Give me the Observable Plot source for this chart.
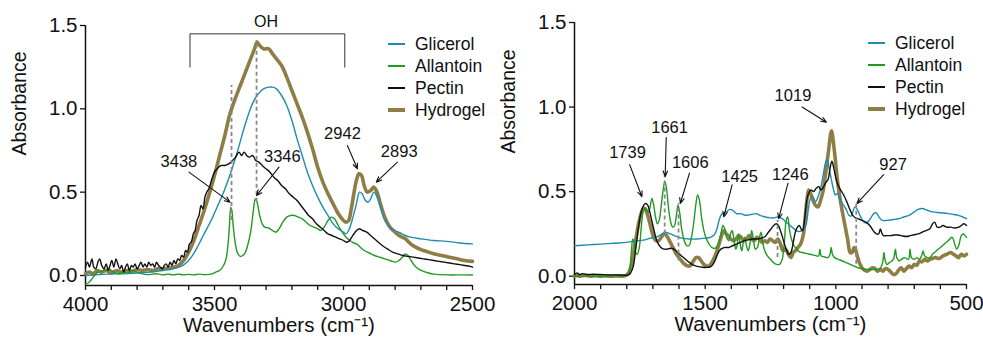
<!DOCTYPE html>
<html>
<head>
<meta charset="utf-8">
<script src="https://cdn.jsdelivr.net/npm/d3@7"></script>
<script src="https://cdn.jsdelivr.net/npm/@observablehq/plot@0.6"></script>
<style>
  body { margin: 0; background: #fff; }
  #wrap { position: relative; width: 983px; height: 343px; font-family: "Liberation Sans", Arial, sans-serif; overflow: hidden; }
  .panel { position: absolute; top: 0; }
  .panel svg { overflow: visible; }
  .legend { position: absolute; font-size: 17.5px; color: #111; line-height: 22px; }
  .legend .row { display: flex; align-items: center; height: 22px; }
  .legend .sw { display: inline-block; width: 17px; margin-right: 10px; }
</style>
</head>
<body>
<div id="wrap"></div>
<script>
// ---------- series meta ----------
const seriesNames = ["Glicerol", "Allantoin", "Pectin", "Hydrogel"];
const seriesColors = ["#1d8cb0", "#1f9a22", "#111111", "#8e7d44"];
const seriesWidths = [1.4, 1.4, 1.4, 3.6];

// ---------- left panel (4000–2500 cm-1) ----------
const glicerolL = [[4000,0.0],[3950,0.005],[3900,0.01],[3850,0.01],[3800,0.015],[3750,0.02],[3700,0.03],[3660,0.04],[3630,0.055],[3610,0.075],[3590,0.11],[3570,0.16],[3550,0.22],[3530,0.28],[3510,0.34],[3490,0.41],[3470,0.48],[3450,0.56],[3430,0.65],[3410,0.75],[3390,0.86],[3370,0.96],[3350,1.04],[3330,1.09],[3310,1.12],[3290,1.13],[3275,1.13],[3260,1.12],[3240,1.08],[3220,1.02],[3200,0.93],[3180,0.82],[3160,0.72],[3140,0.62],[3120,0.54],[3100,0.47],[3080,0.41],[3060,0.36],[3040,0.31],[3020,0.28],[3000,0.26],[2990,0.25],[2980,0.27],[2965,0.34],[2950,0.43],[2938,0.50],[2928,0.49],[2915,0.45],[2905,0.44],[2895,0.46],[2882,0.50],[2870,0.47],[2855,0.40],[2840,0.33],[2820,0.29],[2800,0.27],[2780,0.255],[2760,0.24],[2740,0.23],[2700,0.22],[2650,0.21],[2600,0.205],[2550,0.195],[2500,0.19]];

const allantoinL = [[4000,-0.05],[3990,-0.045],[3980,-0.03],[3970,-0.01],[3960,0.01],[3950,0.02],[3940,0.025],[3930,0.03],[3920,0.035],[3910,0.04],[3900,0.03],[3890,0.02],[3880,0.015],[3870,0.01],[3860,0.015],[3850,0.02],[3840,0.015],[3830,0.02],[3820,0.03],[3810,0.025],[3800,0.02],[3780,0.01],[3760,0.005],[3740,0.008],[3720,0.01],[3700,0.004],[3680,0.008],[3660,0.004],[3640,0.008],[3620,0.004],[3600,0.007],[3580,0.004],[3560,0.008],[3540,0.005],[3520,0.007],[3510,0.01],[3495,0.02],[3480,0.03],[3465,0.06],[3455,0.10],[3448,0.18],[3442,0.30],[3437,0.41],[3432,0.38],[3427,0.29],[3420,0.20],[3412,0.14],[3400,0.115],[3390,0.12],[3380,0.14],[3370,0.19],[3360,0.26],[3350,0.38],[3342,0.46],[3335,0.44],[3325,0.36],[3315,0.31],[3305,0.29],[3290,0.285],[3275,0.27],[3262,0.26],[3250,0.28],[3235,0.32],[3220,0.35],[3205,0.36],[3190,0.36],[3175,0.35],[3160,0.34],[3145,0.32],[3130,0.30],[3115,0.29],[3100,0.28],[3088,0.27],[3075,0.29],[3060,0.33],[3048,0.35],[3035,0.34],[3020,0.30],[3005,0.26],[2990,0.23],[2975,0.21],[2960,0.195],[2950,0.19],[2945,0.185],[2935,0.17],[2920,0.15],[2900,0.135],[2880,0.12],[2860,0.11],[2840,0.10],[2820,0.09],[2800,0.08],[2785,0.09],[2772,0.11],[2760,0.13],[2750,0.12],[2738,0.09],[2725,0.06],[2710,0.04],[2690,0.025],[2670,0.015],[2650,0.008],[2620,0.005],[2580,0.003],[2540,0.004],[2500,0.003]];

const pectinL = [[4000,0.05],[3992,0.08],[3985,0.05],[3975,0.10],[3968,0.05],[3960,0.04],[3952,0.08],[3945,0.10],[3937,0.06],[3928,0.04],[3920,0.07],[3912,0.03],[3905,0.06],[3898,0.09],[3890,0.05],[3882,0.10],[3875,0.07],[3867,0.04],[3860,0.06],[3852,0.02],[3845,0.05],[3838,0.07],[3830,0.03],[3822,0.06],[3815,0.05],[3808,0.07],[3800,0.04],[3792,0.06],[3785,0.08],[3777,0.05],[3770,0.07],[3762,0.05],[3755,0.08],[3747,0.06],[3740,0.07],[3732,0.05],[3725,0.08],[3717,0.06],[3710,0.05],[3702,0.04],[3695,0.06],[3687,0.07],[3680,0.05],[3672,0.08],[3665,0.06],[3657,0.09],[3650,0.07],[3642,0.10],[3635,0.09],[3627,0.12],[3620,0.11],[3612,0.15],[3605,0.14],[3597,0.19],[3590,0.20],[3582,0.25],[3575,0.27],[3568,0.33],[3560,0.36],[3552,0.42],[3545,0.40],[3537,0.47],[3530,0.50],[3522,0.52],[3510,0.58],[3500,0.62],[3490,0.64],[3475,0.66],[3460,0.66],[3445,0.67],[3430,0.69],[3418,0.71],[3405,0.74],[3395,0.72],[3385,0.74],[3375,0.72],[3365,0.71],[3352,0.72],[3340,0.69],[3328,0.68],[3315,0.66],[3300,0.64],[3285,0.62],[3270,0.59],[3255,0.57],[3240,0.54],[3225,0.52],[3210,0.49],[3195,0.47],[3180,0.45],[3165,0.42],[3150,0.39],[3135,0.36],[3120,0.34],[3105,0.31],[3090,0.29],[3075,0.27],[3060,0.25],[3045,0.24],[3030,0.23],[3015,0.22],[3000,0.21],[2990,0.20],[2980,0.205],[2968,0.23],[2955,0.26],[2940,0.28],[2925,0.27],[2910,0.26],[2895,0.24],[2880,0.22],[2865,0.20],[2850,0.18],[2830,0.16],[2810,0.14],[2790,0.13],[2770,0.12],[2750,0.115],[2730,0.11],[2710,0.105],[2690,0.10],[2670,0.095],[2650,0.09],[2630,0.085],[2610,0.08],[2590,0.075],[2570,0.07],[2550,0.065],[2530,0.06],[2510,0.055],[2500,0.05]];

const hydrogelL = [[4000,0.01],[3985,0.02],[3970,0.01],[3955,0.03],[3940,0.02],[3920,0.03],[3900,0.015],[3880,0.03],[3860,0.02],[3840,0.03],[3820,0.025],[3800,0.035],[3780,0.03],[3760,0.035],[3740,0.03],[3720,0.04],[3700,0.04],[3680,0.045],[3660,0.05],[3640,0.06],[3620,0.09],[3600,0.14],[3580,0.21],[3560,0.30],[3540,0.39],[3520,0.49],[3500,0.60],[3480,0.72],[3460,0.84],[3440,0.97],[3420,1.06],[3400,1.14],[3380,1.22],[3360,1.30],[3345,1.36],[3335,1.40],[3325,1.38],[3310,1.36],[3290,1.36],[3275,1.33],[3260,1.30],[3240,1.26],[3220,1.19],[3200,1.11],[3180,1.03],[3160,0.95],[3140,0.86],[3120,0.76],[3100,0.65],[3080,0.56],[3060,0.49],[3040,0.43],[3020,0.37],[3000,0.33],[2990,0.32],[2980,0.33],[2970,0.40],[2960,0.49],[2950,0.57],[2940,0.61],[2930,0.60],[2920,0.54],[2908,0.50],[2895,0.51],[2882,0.53],[2870,0.50],[2855,0.42],[2840,0.35],[2820,0.29],[2800,0.26],[2780,0.235],[2760,0.22],[2740,0.19],[2720,0.17],[2700,0.155],[2680,0.145],[2650,0.13],[2620,0.12],[2590,0.11],[2560,0.10],[2530,0.09],[2500,0.085]];

// ---------- right panel (2000–500 cm-1) ----------
const glicerolR = [[2000,0.18],[1950,0.185],[1900,0.19],[1850,0.195],[1800,0.20],[1760,0.21],[1730,0.215],[1710,0.225],[1690,0.23],[1675,0.24],[1660,0.255],[1650,0.26],[1640,0.255],[1625,0.245],[1610,0.235],[1590,0.225],[1560,0.22],[1530,0.22],[1500,0.225],[1480,0.23],[1465,0.245],[1455,0.28],[1445,0.34],[1435,0.37],[1420,0.38],[1405,0.395],[1395,0.39],[1380,0.37],[1365,0.37],[1345,0.36],[1325,0.365],[1305,0.37],[1290,0.36],[1270,0.35],[1250,0.345],[1235,0.345],[1220,0.35],[1205,0.34],[1190,0.32],[1175,0.30],[1160,0.28],[1145,0.265],[1130,0.27],[1115,0.30],[1105,0.40],[1097,0.46],[1088,0.47],[1078,0.44],[1068,0.47],[1058,0.52],[1048,0.60],[1038,0.68],[1033,0.69],[1026,0.64],[1018,0.58],[1010,0.52],[1002,0.48],[995,0.49],[985,0.46],[975,0.43],[962,0.40],[950,0.36],[942,0.355],[935,0.38],[927,0.41],[918,0.395],[908,0.36],[898,0.33],[888,0.315],[878,0.32],[868,0.34],[855,0.37],[845,0.375],[835,0.35],[822,0.33],[805,0.33],[780,0.335],[760,0.34],[740,0.35],[720,0.36],[700,0.38],[685,0.395],[670,0.40],[650,0.39],[630,0.38],[600,0.375],[570,0.37],[550,0.365],[530,0.36],[515,0.35],[500,0.34]];

const allantoinR = [[2000,0.0],[1950,0.002],[1900,0.0],[1850,0.003],[1810,0.003],[1795,0.01],[1788,0.05],[1782,0.15],[1777,0.22],[1772,0.20],[1766,0.14],[1760,0.13],[1752,0.17],[1745,0.28],[1737,0.38],[1728,0.40],[1718,0.38],[1712,0.40],[1704,0.46],[1697,0.42],[1690,0.35],[1683,0.31],[1676,0.33],[1668,0.42],[1660,0.52],[1654,0.56],[1648,0.52],[1640,0.40],[1632,0.32],[1624,0.29],[1617,0.30],[1610,0.36],[1604,0.42],[1598,0.38],[1590,0.28],[1580,0.21],[1570,0.18],[1562,0.18],[1555,0.21],[1545,0.30],[1536,0.42],[1529,0.48],[1522,0.45],[1514,0.35],[1505,0.27],[1495,0.22],[1485,0.19],[1475,0.17],[1462,0.165],[1450,0.19],[1440,0.25],[1432,0.30],[1425,0.28],[1418,0.23],[1410,0.21],[1403,0.25],[1397,0.27],[1390,0.22],[1383,0.16],[1378,0.18],[1372,0.25],[1366,0.19],[1360,0.15],[1354,0.20],[1348,0.23],[1342,0.18],[1335,0.15],[1328,0.20],[1322,0.27],[1315,0.21],[1308,0.16],[1300,0.17],[1292,0.23],[1286,0.26],[1280,0.20],[1272,0.15],[1262,0.12],[1250,0.10],[1238,0.08],[1226,0.07],[1215,0.07],[1205,0.10],[1197,0.20],[1190,0.33],[1184,0.35],[1178,0.28],[1170,0.22],[1160,0.18],[1150,0.16],[1140,0.145],[1128,0.14],[1115,0.135],[1100,0.13],[1085,0.125],[1075,0.12],[1066,0.12],[1061,0.16],[1056,0.12],[1045,0.115],[1030,0.11],[1022,0.13],[1018,0.17],[1013,0.13],[1005,0.11],[990,0.10],[975,0.09],[960,0.08],[945,0.07],[930,0.06],[915,0.05],[900,0.045],[880,0.04],[860,0.04],[840,0.04],[828,0.05],[820,0.09],[816,0.14],[812,0.10],[805,0.07],[795,0.08],[780,0.10],[772,0.16],[767,0.11],[758,0.09],[748,0.10],[738,0.11],[722,0.10],[716,0.16],[711,0.11],[700,0.10],[690,0.11],[680,0.10],[672,0.12],[666,0.15],[660,0.12],[650,0.11],[640,0.11],[630,0.13],[615,0.15],[600,0.17],[585,0.19],[570,0.21],[555,0.23],[545,0.19],[538,0.16],[530,0.18],[520,0.24],[512,0.25],[505,0.24],[500,0.23]];

const pectinR = [[2000,0.01],[1990,0.02],[1980,0.01],[1970,0.015],[1950,0.01],[1930,0.012],[1900,0.01],[1870,0.008],[1840,0.008],[1810,0.006],[1795,0.006],[1785,0.02],[1775,0.06],[1765,0.17],[1755,0.29],[1745,0.38],[1735,0.42],[1728,0.43],[1720,0.42],[1712,0.38],[1703,0.32],[1694,0.26],[1685,0.21],[1675,0.18],[1665,0.165],[1655,0.16],[1645,0.16],[1632,0.165],[1620,0.16],[1605,0.14],[1590,0.12],[1575,0.10],[1560,0.08],[1545,0.065],[1530,0.058],[1510,0.053],[1495,0.052],[1480,0.055],[1470,0.07],[1460,0.10],[1450,0.14],[1440,0.16],[1425,0.17],[1410,0.17],[1395,0.18],[1380,0.19],[1365,0.20],[1350,0.21],[1335,0.215],[1320,0.22],[1300,0.22],[1285,0.225],[1270,0.235],[1258,0.26],[1248,0.28],[1238,0.30],[1228,0.31],[1220,0.30],[1210,0.26],[1200,0.21],[1190,0.16],[1180,0.13],[1172,0.14],[1163,0.20],[1155,0.26],[1147,0.29],[1140,0.30],[1133,0.28],[1127,0.27],[1120,0.33],[1112,0.44],[1104,0.49],[1095,0.51],[1085,0.50],[1075,0.52],[1065,0.53],[1058,0.51],[1050,0.52],[1040,0.55],[1030,0.57],[1022,0.64],[1015,0.68],[1008,0.64],[1000,0.58],[992,0.54],[982,0.51],[970,0.48],[958,0.44],[945,0.39],[935,0.36],[925,0.345],[915,0.34],[900,0.33],[885,0.32],[870,0.30],[855,0.265],[845,0.25],[836,0.25],[830,0.28],[825,0.26],[818,0.24],[805,0.24],[790,0.24],[770,0.245],[750,0.24],[730,0.235],[715,0.24],[700,0.245],[685,0.25],[670,0.26],[655,0.27],[640,0.28],[630,0.31],[622,0.32],[612,0.29],[600,0.29],[590,0.30],[575,0.29],[560,0.29],[545,0.285],[530,0.29],[520,0.30],[510,0.31],[500,0.30]];

const hydrogelR = [[2000,0.0],[1990,0.005],[1980,0.0],[1960,0.005],[1940,0.0],[1920,0.003],[1900,0.0],[1880,0.002],[1860,0.0],[1840,0.002],[1820,0.0],[1805,0.003],[1795,0.015],[1785,0.05],[1775,0.13],[1765,0.22],[1755,0.31],[1745,0.37],[1737,0.40],[1730,0.40],[1722,0.37],[1713,0.32],[1705,0.27],[1697,0.23],[1688,0.21],[1678,0.21],[1668,0.23],[1658,0.25],[1650,0.245],[1640,0.22],[1630,0.19],[1620,0.16],[1610,0.13],[1600,0.11],[1590,0.09],[1578,0.07],[1567,0.06],[1555,0.065],[1545,0.09],[1535,0.11],[1525,0.11],[1515,0.09],[1505,0.07],[1495,0.06],[1485,0.06],[1475,0.08],[1465,0.11],[1455,0.15],[1445,0.20],[1435,0.25],[1428,0.27],[1420,0.25],[1412,0.24],[1402,0.22],[1392,0.21],[1382,0.22],[1372,0.24],[1362,0.23],[1352,0.21],[1342,0.22],[1332,0.24],[1322,0.22],[1312,0.21],[1302,0.23],[1292,0.22],[1282,0.20],[1272,0.21],[1262,0.20],[1252,0.22],[1242,0.21],[1232,0.20],[1222,0.22],[1212,0.19],[1202,0.15],[1192,0.16],[1182,0.13],[1172,0.11],[1163,0.14],[1155,0.15],[1145,0.17],[1135,0.19],[1125,0.24],[1117,0.35],[1110,0.46],[1104,0.51],[1097,0.49],[1088,0.45],[1078,0.42],[1068,0.41],[1058,0.45],[1048,0.51],[1038,0.62],[1028,0.74],[1020,0.84],[1016,0.86],[1010,0.80],[1002,0.69],[995,0.58],[985,0.47],[975,0.38],[965,0.30],[955,0.22],[945,0.14],[938,0.14],[930,0.17],[925,0.16],[918,0.12],[910,0.08],[900,0.05],[890,0.035],[880,0.03],[870,0.04],[860,0.05],[850,0.045],[840,0.03],[830,0.04],[820,0.03],[810,0.045],[800,0.04],[790,0.025],[780,0.01],[770,0.015],[760,0.035],[750,0.05],[740,0.03],[730,0.045],[720,0.06],[710,0.05],[700,0.07],[690,0.065],[680,0.09],[670,0.085],[660,0.10],[650,0.09],[640,0.10],[630,0.105],[620,0.11],[605,0.105],[590,0.12],[575,0.13],[560,0.14],[550,0.13],[540,0.12],[530,0.11],[520,0.13],[510,0.12],[500,0.13]];

// ---------- ticks ----------
const xMajorL = [4000, 3500, 3000, 2500];
const xMajorR = [2000, 1500, 1000, 500];
const yTicks = [0, 0.5, 1.0, 1.5];

// ---------- annotations (data units) ----------
const peakLabelsL = ["3438", "3346", "2942", "2893"];
const peakTextXL = [3638, 3237, 3004, 2784];
const peakTextYL = [0.68, 0.71, 0.85, 0.74];
const arrowFromXL = [3599, 3250, 2985, 2791];
const arrowFromYL = [0.62, 0.65, 0.78, 0.68];
const arrowToXL = [3440, 3337, 2946, 2873];
const arrowToYL = [0.44, 0.48, 0.64, 0.56];
const dashXL = [3434, 3337];
const dashY1L = [0.33, 0.44];
const dashY2L = [1.14, 1.41];
const ohBracket = [[3595, 1.25], [3595, 1.45], [2995, 1.45], [2995, 1.25]];
const ohLabel = [{x: 3300, y: 1.49, t: "OH"}];

const peakLabelsR = ["1739", "1661", "1606", "1425", "1246", "1019", "927"];
const peakTextXR = [1797, 1636, 1557, 1368, 1174, 1164, 781];
const peakTextYR = [0.73, 0.88, 0.67, 0.59, 0.60, 1.07, 0.66];
const arrowFromXR = [1789, 1649, 1560, 1397, 1183, 1129, 817];
const arrowFromYR = [0.66, 0.82, 0.61, 0.54, 0.55, 1.0, 0.60];
const arrowToXR = [1742, 1653, 1595, 1429, 1219, 1036, 919];
const arrowToYR = [0.47, 0.59, 0.43, 0.35, 0.34, 0.91, 0.43];
const dashXR = [1655, 1602, 1223, 922];
const dashY1R = [0.25, 0.09, 0.11, 0.07];
const dashY2R = [0.60, 0.43, 0.33, 0.43];

// ---------- build ----------
const FONT = "Liberation Sans, Arial, Helvetica, sans-serif";
const ink = "#111";

function zipPeaks(labels, tx, ty, fx, fy, ax, ay) {
  return labels.map((l, i) => ({label: l, tx: tx[i], ty: ty[i], x1: fx[i], y1: fy[i], x2: ax[i], y2: ay[i]}));
}
function zipDash(xs, y1, y2) { return xs.map((x, i) => ({x, y1: y1[i], y2: y2[i]})); }

function makePanel(cfg) {
  const {width, mL, mR, mT, mB, domain, ymin, majors, series, peaks, dashes, extra} = cfg;
  const lo = Math.min(...domain), hi = Math.max(...domain);
  const minors = d3.range(lo, hi + 1, 100);
  const drawOrder = [3, 0, 1, 2];
  return Plot.plot({
    width, height: 343,
    marginLeft: mL, marginRight: mR, marginTop: mT, marginBottom: mB,
    style: {fontFamily: FONT, fontSize: "20px", color: ink, background: "transparent", overflow: "visible"},
    x: {domain},
    y: {domain: [ymin, 1.5]},
    marks: [
      Plot.axisX({ticks: minors, tickSize: 5, tickPadding: 6, stroke: ink, strokeWidth: 1.3,
        tickFormat: d => majors.includes(d) ? String(d) : "",
        fontSize: 20.5, label: null}),
      Plot.axisY({ticks: yTicks, tickSize: 5, tickPadding: 3, stroke: ink, strokeWidth: 1.3,
        tickFormat: d3.format(".1f"), fontSize: 20.5, label: null}),
      Plot.text(["Wavenumbers (cm\u207B\u00B9)"], {frameAnchor: "bottom", dy: 40, fontSize: 20.5, fill: ink, lineAnchor: "middle"}),
      Plot.text(["Absorbance"], {frameAnchor: "left", dx: -66, rotate: -90, fontSize: 19.5, fill: ink, lineAnchor: "middle"}),
      Plot.ruleY([ymin], {stroke: ink, strokeWidth: 1.5}),
      Plot.ruleX([domain[0]], {y1: ymin, y2: 1.5, stroke: ink, strokeWidth: 1.5}),
      ...(extra || []),
      ...drawOrder.map(i => Plot.line(series[i], {stroke: seriesColors[i], strokeWidth: seriesWidths[i], curve: "catmull-rom", strokeLinejoin: "round"})),
      Plot.ruleX(dashes, {x: "x", y1: "y1", y2: "y2", stroke: "#888", strokeWidth: 1.8, strokeDasharray: "4,3"}),
      Plot.arrow(peaks, {x1: "x1", y1: "y1", x2: "x2", y2: "y2", stroke: ink, strokeWidth: 1.1, headLength: 8, headAngle: 45, inset: 0}),
      Plot.text(peaks, {x: "tx", y: "ty", text: "label", fontSize: 16.5, fill: ink})
    ]
  });
}

const wrap = document.getElementById("wrap");

const left = makePanel({
  width: 490, mL: 85, mR: 18, mT: 25, mB: 58, domain: [4000, 2500], ymin: -0.06, majors: xMajorL,
  series: [glicerolL, allantoinL, pectinL, hydrogelL],
  peaks: zipPeaks(peakLabelsL, peakTextXL, peakTextYL, arrowFromXL, arrowFromYL, arrowToXL, arrowToYL),
  dashes: zipDash(dashXL, dashY1L, dashY2L),
  extra: [
    Plot.line(ohBracket, {stroke: "#333", strokeWidth: 1}),
    Plot.text(ohLabel, {x: "x", y: "y", text: "t", fontSize: 16, fill: ink, lineAnchor: "bottom"})
  ]
});
const right = makePanel({
  width: 493, mL: 84, mR: 17, mT: 22, mB: 59, domain: [2000, 500], ymin: -0.049, majors: xMajorR,
  series: [glicerolR, allantoinR, pectinR, hydrogelR],
  peaks: zipPeaks(peakLabelsR, peakTextXR, peakTextYR, arrowFromXR, arrowFromYR, arrowToXR, arrowToYR),
  dashes: zipDash(dashXR, dashY1R, dashY2R)
});

function addPanel(node, x) {
  const d = document.createElement("div");
  d.className = "panel"; d.style.left = x + "px";
  d.appendChild(node); wrap.appendChild(d);
}
addPanel(left, 0);
addPanel(right, 490);

function addLegend(x, y) {
  const lg = document.createElement("div");
  lg.className = "legend"; lg.style.left = x + "px"; lg.style.top = y + "px";
  seriesNames.forEach((n, i) => {
    const r = document.createElement("div"); r.className = "row";
    const s = document.createElement("span"); s.className = "sw";
    s.style.height = seriesWidths[i] + "px"; s.style.background = seriesColors[i];
    const t = document.createElement("span"); t.textContent = n;
    r.appendChild(s); r.appendChild(t); lg.appendChild(r);
  });
  wrap.appendChild(lg);
}
addLegend(388, 33);
addLegend(868, 32);
</script>
</body>
</html>
